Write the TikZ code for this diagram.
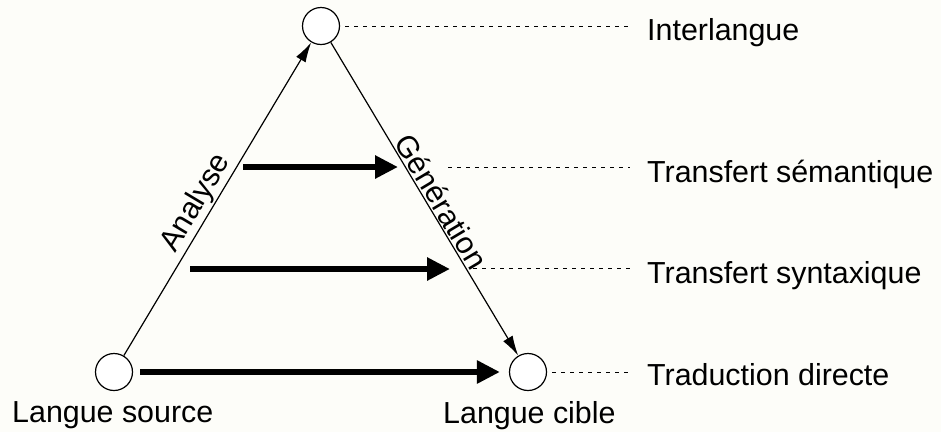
\documentclass[tikz,border=0pt]{standalone}
\usepackage{fontspec}
\setmainfont{Liberation Sans}
\usetikzlibrary{arrows.meta}
\definecolor{bgcol}{RGB}{253,253,249}
\tikzset{
  lang/.style={circle, draw=black, line width=1.2pt, minimum size=37pt, inner sep=0pt, fill=white},
  lbl/.style={font=\fontsize{30.4}{36}\selectfont, inner sep=0pt, anchor=base west},
  slopelbl/.style={font=\fontsize{30.4}{36}\selectfont, inner sep=1.5pt, sloped, above},
  thinarrow/.style={line width=1.2pt, -{Latex[length=20pt,width=11pt]}},
  thickarrow/.style={line width=6pt, -{Triangle[length=23pt,width=22pt]}},
  dashline/.style={line width=0.8pt, dash pattern=on 4pt off 5pt},
}
\begin{document}
\begin{tikzpicture}[x=1pt,y=-1pt]
  \fill[bgcol] (0,0) rectangle (941,432);
  \useasboundingbox (0,0) rectangle (941,432);

  % circles
  \node[lang] (top) at (321,26) {};
  \node[lang] (src) at (114,372) {};
  \node[lang] (tgt) at (528,372) {};

  % right labels
  \node[lbl] (inter) at (647,40) {Interlangue};
  \node[lbl] (sem) at (647,182) {Transfert sémantique};
  \node[lbl] (syn) at (647,283) {Transfert syntaxique};
  \node[lbl] (dir) at (647,385) {Traduction directe};

  % bottom labels
  \node[lbl] (srclbl) at (12,422) {Langue source};
  \node[lbl] (tgtlbl) at (443,423) {Langue cible};

  % analysis / generation
  \draw[thinarrow] (src) -- node[slopelbl, pos=0.46] {Analyse} (top);
  \draw[thinarrow] (top) -- node[slopelbl, pos=0.53] {Génération} (tgt);

  % transfer arrows
  \coordinate (semA) at (243,167);
  \coordinate (semB) at (398,167);
  \coordinate (synA) at (190,269);
  \coordinate (synB) at (450,269);
  \draw[thickarrow] (semA) -- (semB);
  \draw[thickarrow] (synA) -- (synB);
  \draw[thickarrow, shorten <=7pt, shorten >=9pt] (src) -- (tgt);

  % dashed guide lines
  \coordinate (dI) at (630,26);
  \coordinate (dSa) at (448,167);
  \coordinate (dSb) at (630,167);
  \coordinate (dYa) at (473,268);
  \coordinate (dYb) at (630,268);
  \coordinate (dD) at (630,372);
  \draw[dashline] ([xshift=5pt]top.east) -- (dI);
  \draw[dashline] (dSa) -- (dSb);
  \draw[dashline] (dYa) -- (dYb);
  \draw[dashline] ([xshift=5pt]tgt.east) -- (dD);
\end{tikzpicture}
\end{document}
